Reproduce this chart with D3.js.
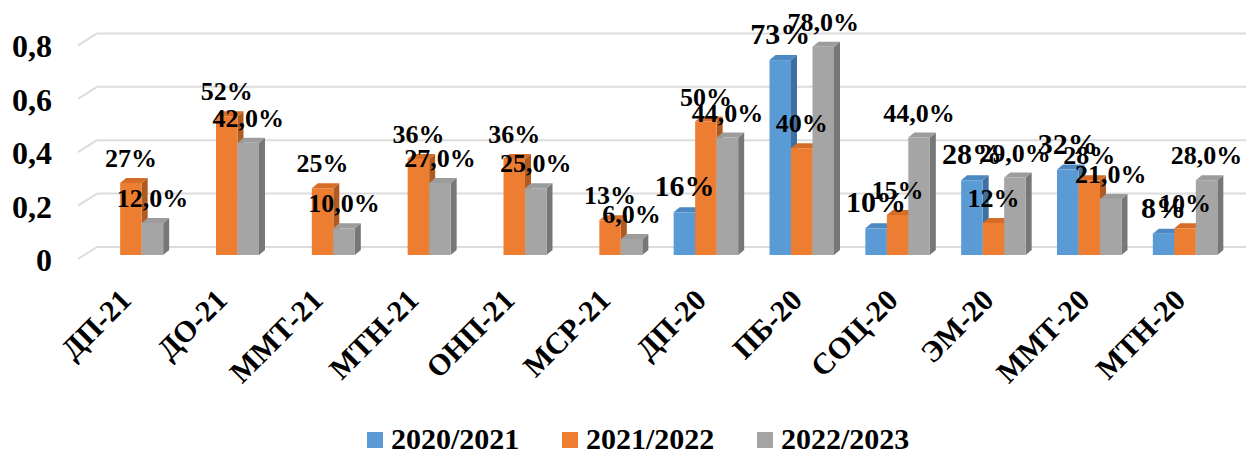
<!DOCTYPE html>
<html>
<head>
<meta charset="utf-8">
<script src="https://cdn.jsdelivr.net/npm/d3@7"></script>
<style>
  html, body { margin: 0; padding: 0; background: #fff; }
  svg { display: block; }
  text { font-family: "Liberation Serif", "Times New Roman", serif; font-weight: bold; fill: #000; }
</style>
</head>
<body>
<svg id="chart" width="1253" height="455"></svg>
<script>
const categories = ["ДП-21","ДО-21","ММТ-21","МТН-21","ОНП-21","МСР-21","ДП-20","ПБ-20","СОЦ-20","ЭМ-20","ММТ-20","МТН-20"];
const seriesNames = ["2020/2021","2021/2022","2022/2023"];
const values2020 = [null,null,null,null,null,null,0.16,0.73,0.10,0.28,0.32,0.08];
const values2021 = [0.27,0.52,0.25,0.36,0.36,0.13,0.50,0.40,0.15,0.12,0.28,0.10];
const values2022 = [0.12,0.42,0.10,0.27,0.25,0.06,0.44,0.78,0.44,0.29,0.21,0.28];
const yTicks = [0, 0.2, 0.4, 0.6, 0.8];
const yTickLabels = ["0","0,2","0,4","0,6","0,8"];

const seriesValues = [values2020, values2021, values2022];
const frontColors = ["#5B9BD5", "#ED7D31", "#A5A5A5"];
const topColors   = ["#4D88C2", "#D56D29", "#9C9C9C"];
const sideColors  = ["#3F709F", "#AE5A21", "#777777"];
const labelSizes  = [30, 26, 26];
const fmtPct0 = v => Math.round(v * 100) + "%";
const fmtPct1 = v => (v * 100).toFixed(1).replace(".", ",") + "%";
const formatters = [fmtPct0, fmtPct0, fmtPct1];

const svg = d3.select("#chart");

const p = 0.327;
const x0 = d3.scaleBand().domain(categories).range([83, 1233]).paddingInner(p).paddingOuter(p / 2);
const x1 = d3.scaleBand().domain(seriesNames).range([0, x0.bandwidth()]).padding(0);
const y = d3.scaleLinear().domain([0, 0.8]).range([255, 255 - 0.8 * 267]);

const depthX = 6, depthY = -5;
const backOff = -8, frontOff = 4;
const wallLeftFront = 78, wallLeftBack = 97, wallRight = 1246;

// gridlines (back wall + left slant)
const grid = svg.append("g");
yTicks.forEach(t => {
  grid.append("line")
    .attr("x1", wallLeftBack).attr("x2", wallRight)
    .attr("y1", y(t) + backOff).attr("y2", y(t) + backOff)
    .attr("stroke", "#dcdcdc").attr("stroke-width", 2);
  grid.append("line")
    .attr("x1", wallLeftFront).attr("x2", wallLeftBack)
    .attr("y1", y(t) + frontOff).attr("y2", y(t) + backOff)
    .attr("stroke", "#dcdcdc").attr("stroke-width", 2);
});

// y axis labels
svg.append("g").selectAll("text").data(yTicks).join("text")
  .attr("x", 52).attr("y", d => y(d) + 16)
  .attr("text-anchor", "end")
  .style("font-size", "32px")
  .text((d, i) => yTickLabels[i]);

// bars
const bars = svg.append("g");
const labelData = [];
categories.forEach((cat, ci) => {
  seriesNames.forEach((s, si) => {
    const v = seriesValues[si][ci];
    if (v === null || v === undefined) return;
    const x = x0(cat) + x1(s);
    const w = x1.bandwidth();
    const yt = y(v), yb = y(0);
    const g = bars.append("g");
    g.append("polygon")
      .attr("points", [[x + w, yt], [x + w + depthX, yt + depthY], [x + w + depthX, yb + depthY], [x + w, yb]].map(q => q.join(",")).join(" "))
      .attr("fill", sideColors[si]);
    g.append("polygon")
      .attr("points", [[x, yt], [x + depthX, yt + depthY], [x + w + depthX, yt + depthY], [x + w, yt]].map(q => q.join(",")).join(" "))
      .attr("fill", topColors[si]);
    g.append("rect")
      .attr("x", x).attr("y", yt).attr("width", w).attr("height", yb - yt)
      .attr("fill", frontColors[si]);
    labelData.push({ x: x + w / 2, y: yt - 16, text: formatters[si](v), size: labelSizes[si] });
  });
});

// data labels
svg.append("g").selectAll("text").data(labelData).join("text")
  .attr("x", d => d.x).attr("y", d => d.y)
  .attr("text-anchor", "middle")
  .style("font-size", d => d.size + "px")
  .text(d => d.text);

// category labels
svg.append("g").selectAll("text").data(categories).join("text")
  .attr("transform", d => `translate(${x0(d) + x0.bandwidth() / 2 + 2},302) rotate(-45)`)
  .attr("text-anchor", "end")
  .style("font-size", "30px")
  .text(d => d);

// legend
const legend = svg.append("g");
seriesNames.forEach((s, i) => {
  const lx = 367 + i * 195;
  legend.append("rect").attr("x", lx).attr("y", 432).attr("width", 16).attr("height", 16).attr("fill", frontColors[i]);
  legend.append("text").attr("x", lx + 24).attr("y", 449).style("font-size", "30px").text(s);
});
</script>
</body>
</html>
